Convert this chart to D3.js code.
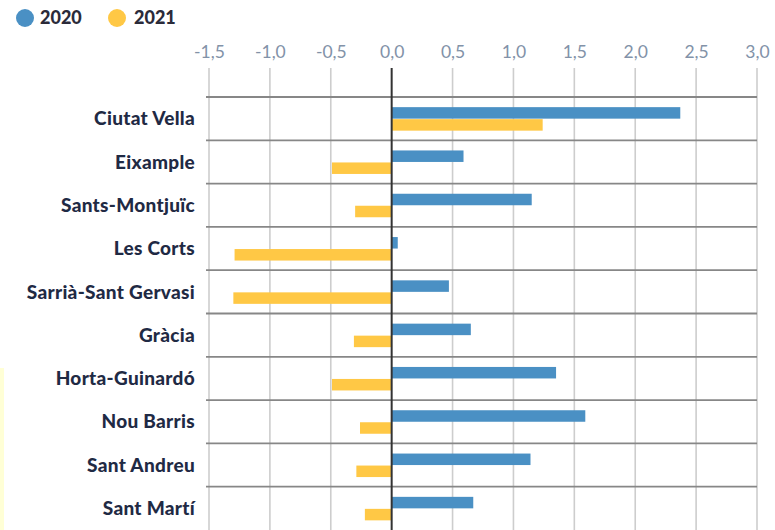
<!DOCTYPE html>
<html><head><meta charset="utf-8">
<script src="https://cdn.jsdelivr.net/npm/d3@7"></script>
<style>html,body{margin:0;padding:0;background:#fff;}</style>
</head><body>
<svg id="chart" width="775" height="530"></svg>
<script>
const categories = ["Ciutat Vella","Eixample","Sants-Montjuïc","Les Corts","Sarrià-Sant Gervasi","Gràcia","Horta-Guinardó","Nou Barris","Sant Andreu","Sant Martí"];
const values2020 = [2.37, 0.59, 1.15, 0.05, 0.47, 0.65, 1.35, 1.59, 1.14, 0.67];
const values2021 = [1.24, -0.49, -0.30, -1.29, -1.30, -0.31, -0.49, -0.26, -0.29, -0.22];
const seriesNames = ["2020","2021"];
const tickValues = [-1.5,-1.0,-0.5,0,0.5,1.0,1.5,2.0,2.5,3.0];
const tickLabels = ["-1,5","-1,0","-0,5","0,0","0,5","1,0","1,5","2,0","2,5","3,0"];

const colors = {"2020":"#4a90c4","2021":"#ffc845"};
const svg = d3.select("#chart");

// faint decorative strip at left edge
svg.append("rect").attr("x",0).attr("y",368).attr("width",4).attr("height",162).attr("fill","#ffffd6");

const x = d3.scaleLinear().domain([-1.5,3.0]).range([209,757]);
const y = d3.scaleBand().domain(categories).range([97,530]).paddingInner(0).paddingOuter(0);
const ySub = d3.scaleBand().domain(seriesNames).range([0,24]);
const bandPad = (y.bandwidth()-24)/2;

// vertical gridlines
svg.append("g").selectAll("line").data(tickValues.filter(v=>v!==0)).join("line")
  .attr("x1",d=>x(d)).attr("x2",d=>x(d)).attr("y1",68).attr("y2",530)
  .attr("stroke","#cdcdcd").attr("stroke-width",1.6);

// horizontal separators
const seps = categories.map(c=>y(c));
svg.append("g").selectAll("line").data(seps).join("line")
  .attr("x1",206).attr("x2",757).attr("y1",d=>d).attr("y2",d=>d)
  .attr("stroke","#878787").attr("stroke-width",1.8);

// bars
const rows = categories.map((c,i)=>({c, v:[{s:"2020",val:values2020[i]},{s:"2021",val:values2021[i]}]}));
const g = svg.append("g").selectAll("g").data(rows).join("g")
  .attr("transform",d=>`translate(0,${y(d.c)+bandPad})`);
g.selectAll("rect").data(d=>d.v).join("rect")
  .attr("x",d=>x(Math.min(0,d.val)))
  .attr("width",d=>Math.abs(x(d.val)-x(0)))
  .attr("y",d=>ySub(d.s)+0.5)
  .attr("height",ySub.bandwidth()-0.5)
  .attr("fill",d=>colors[d.s]);

// zero line
svg.append("line").attr("x1",x(0)).attr("x2",x(0)).attr("y1",68).attr("y2",530)
  .attr("stroke","#333").attr("stroke-width",2);

// top axis labels
const axis = d3.axisTop(x).tickValues(tickValues).tickFormat((d,i)=>tickLabels[i]).tickSize(0).tickPadding(0);
const ax = svg.append("g").attr("transform","translate(0,58)").call(axis);
ax.select(".domain").remove();
ax.selectAll("text").attr("font-family","Lato, sans-serif").attr("font-size","17.5px")
  .attr("fill","#8292a8");

// category labels
svg.append("g").selectAll("text").data(categories).join("text")
  .attr("x",195).attr("y",d=>y(d)+y.bandwidth()/2).attr("dy","0.35em")
  .attr("text-anchor","end").attr("font-family","Lato, sans-serif")
  .attr("font-weight","900").attr("font-size","19px").attr("letter-spacing","0.3px")
  .attr("fill","#1f2a44")
  .text(d=>d);

// legend
const leg = svg.append("g");
const legItems = [{s:"2020",cx:25,tx:40},{s:"2021",cx:117,tx:134}];
leg.selectAll("circle").data(legItems).join("circle")
  .attr("cx",d=>d.cx).attr("cy",18).attr("r",9).attr("fill",d=>colors[d.s]);
leg.selectAll("text").data(legItems).join("text")
  .attr("x",d=>d.tx).attr("y",18).attr("dy","0.36em")
  .attr("font-family","Lato, sans-serif").attr("font-weight","900")
  .attr("font-size","18px").attr("fill","#2b2b3a").text(d=>d.s);
</script>
</body></html>
